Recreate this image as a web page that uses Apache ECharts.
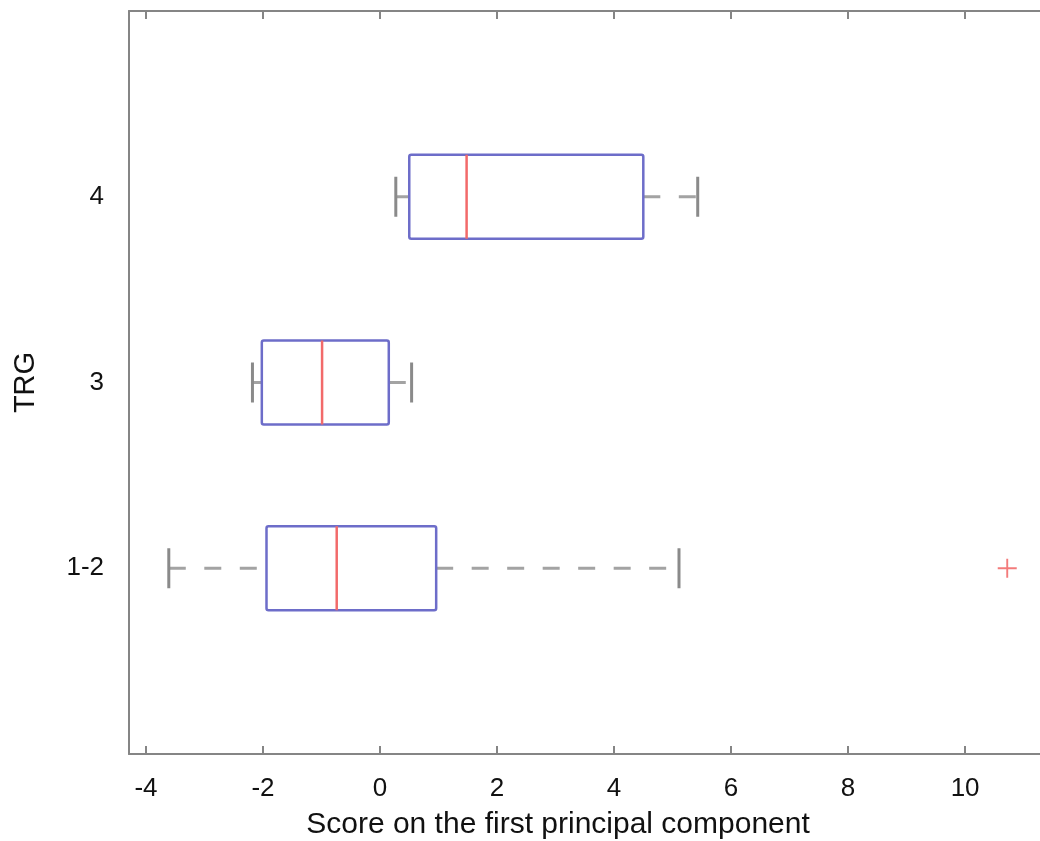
<!DOCTYPE html>
<html>
<head>
<meta charset="utf-8">
<title>TRG boxplot</title>
<script src="https://cdn.jsdelivr.net/npm/echarts@6/dist/echarts.min.js"></script>
<style>
  html, body { margin: 0; padding: 0; background: #fff; }
  #main { width: 1040px; height: 841px; }
</style>
</head>
<body>
<div id="main"></div>
<script>
// groups, bottom to top
var categories = ['1-2', '3', '4'];
var lowWhisker = [-3.61, -2.18, 0.27];
var q1 = [-1.94, -2.02, 0.50];
var median = [-0.74, -0.99, 1.48];
var q3 = [0.96, 0.15, 4.50];
var highWhisker = [5.11, 0.54, 5.43];
// outliers: [score, group]
var outliers = [[10.72, '1-2']];
var xTicks = [-4, -2, 0, 2, 4, 6, 8, 10];

var font = 'Liberation Sans, Arial, sans-serif';

var boxData = [];
for (var i = 0; i < categories.length; i++) {
    boxData.push([categories[i], lowWhisker[i], q1[i], median[i], q3[i], highWhisker[i]]);
}

function renderBox(params, api) {
    var cat = api.value(0);
    var lo = api.coord([api.value(1), cat]);
    var b1 = api.coord([api.value(2), cat]);
    var md = api.coord([api.value(3), cat]);
    var b3 = api.coord([api.value(4), cat]);
    var hi = api.coord([api.value(5), cat]);
    var y = lo[1];
    var h = 42;   // half box height
    var c = 20;   // half cap height
    var whisker = { stroke: '#a3a3a3', lineWidth: 3, lineDash: [17, 18.5] };
    var cap = { stroke: '#8a8a8a', lineWidth: 3 };
    return {
        type: 'group',
        children: [
            { type: 'line', shape: { x1: lo[0], y1: y, x2: b1[0], y2: y }, style: whisker },
            { type: 'line', shape: { x1: b3[0], y1: y, x2: hi[0], y2: y }, style: whisker },
            { type: 'line', shape: { x1: lo[0], y1: y - c, x2: lo[0], y2: y + c }, style: cap },
            { type: 'line', shape: { x1: hi[0], y1: y - c, x2: hi[0], y2: y + c }, style: cap },
            {
                type: 'rect',
                shape: { x: b1[0], y: y - h, width: b3[0] - b1[0], height: 2 * h, r: 2 },
                style: { fill: 'none', stroke: '#6d6dc9', lineWidth: 2.5 }
            },
            {
                type: 'line',
                shape: { x1: md[0], y1: y - h, x2: md[0], y2: y + h },
                style: { stroke: '#f26a6a', lineWidth: 2.5 }
            }
        ]
    };
}

var chart = echarts.init(document.getElementById('main'));
var axisLine = { show: true, onZero: false, lineStyle: { color: '#858585', width: 2 } };
var ticks = { show: true, inside: true, length: 8, customValues: xTicks, lineStyle: { color: '#858585', width: 2 } };

var option = {
    backgroundColor: '#fff',
    animation: false,
    grid: { left: 129, right: 0, top: 11, bottom: 87, outerBoundsMode: 'none' },
    xAxis: [{
        type: 'value',
        position: 'bottom',
        min: -4.29,
        max: 11.28,
        axisLine: axisLine,
        axisTick: ticks,
        splitLine: { show: false },
        axisLabel: {
            customValues: xTicks,
            margin: 22,
            color: '#111',
            fontSize: 26,
            fontFamily: font
        },
        name: 'Score on the first principal component',
        nameLocation: 'middle',
        nameGap: 56,
        nameTextStyle: { color: '#111', fontSize: 30, fontFamily: font, padding: [0, 53, 0, 0] }
    }, {
        type: 'value',
        position: 'top',
        min: -4.29,
        max: 11.28,
        axisLine: axisLine,
        axisTick: ticks,
        axisLabel: { show: false },
        splitLine: { show: false }
    }],
    yAxis: {
        type: 'category',
        data: [''].concat(categories, ['']),
        boundaryGap: false,
        axisLine: axisLine,
        axisTick: { show: false },
        splitLine: { show: false },
        axisLabel: {
            interval: 0,
            margin: 25,
            color: '#111',
            fontSize: 26,
            fontFamily: font
        },
        name: 'TRG',
        nameLocation: 'middle',
        nameGap: 89,
        nameTextStyle: { color: '#111', fontSize: 29, fontFamily: font }
    },
    series: [{
        type: 'custom',
        renderItem: renderBox,
        encode: { x: [1, 2, 3, 4, 5], y: 0 },
        data: boxData,
        silent: true
    }, {
        type: 'scatter',
        data: outliers,
        symbol: 'path://M9,0H11V9H20V11H11V20H9V11H0V9H9Z',
        symbolSize: 19,
        itemStyle: { color: '#f05a5a' },
        silent: true
    }]
};
chart.setOption(option);
</script>
</body>
</html>
